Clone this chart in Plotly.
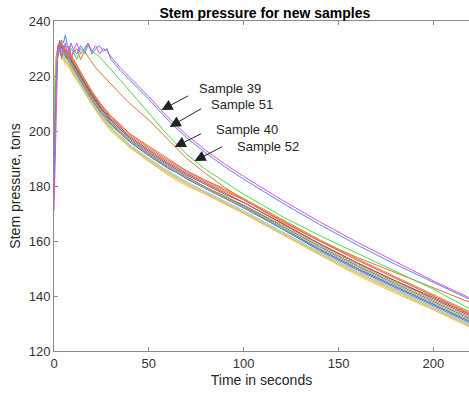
import plotly.graph_objects as go

# Time axis (seconds) for the bundle of samples
time_s = [0, 1, 2, 3, 4, 5, 6, 8, 10, 13, 16, 20, 25, 30, 40, 50, 60, 70, 80,
          90, 100, 120, 140, 160, 180, 200, 220]
# Time axis (seconds) for the four labelled samples
time_o = [0, 1, 2, 3, 4, 5, 6, 7, 8, 9, 10, 12, 14, 16, 18, 20, 22, 24, 26, 28,
          30, 35, 40, 50, 60, 70, 80, 90, 100, 120, 140, 160, 180, 200, 220]

# Bulk of samples (tight bundle)
s_a = [188, 221, 229, 231, 229, 230, 227, 226, 223.5, 220, 216.5, 212, 207, 203, 196.5, 191.5, 187, 183, 179.5, 176, 172.5, 165, 157, 150, 143.5, 137, 130.5]
s_b = [176, 218, 230, 232, 230, 231, 229, 228.5, 226, 222.5, 219, 214.5, 209.5, 205.5, 199, 194, 189.5, 185.5, 182, 178.5, 175, 167.5, 160, 153, 146.5, 140, 133.5]
s_c = [200, 224, 228, 229, 227, 226, 225, 223.5, 221, 217.5, 214, 209.5, 204.5, 200.5, 194, 189, 184.5, 180.5, 177, 173.5, 170, 162.5, 155, 148, 141.5, 135, 128.5]
s_d = [192, 223, 230, 229, 231, 228, 228, 226.5, 224, 220.5, 217, 212.5, 207.5, 203.5, 196.5, 191.5, 187, 182.5, 179, 175.5, 172, 164.5, 156.5, 149.5, 143, 136.5, 130]
s_e = [205, 226, 231, 230, 228, 229, 227, 225, 222.5, 219, 215.5, 211, 206, 202, 196, 191, 186.5, 183, 179.5, 176.5, 173, 166, 158.5, 151.5, 145, 138.5, 132]
s_f = [182, 219, 227, 230, 229, 227, 226, 224, 221.5, 218, 214.5, 210, 205, 201, 194.5, 189.5, 185, 181, 177.5, 174, 170.5, 163, 155.5, 148.5, 142, 135.5, 129]
s_g = [179, 217, 228, 231, 232, 230, 229, 227.5, 225, 221.5, 218, 213.5, 208.5, 204.5, 198, 193, 188.5, 184.5, 181, 177.5, 174, 166.5, 159, 152, 145.5, 139, 132.5]
s_h = [196, 224, 229, 232, 230, 229, 228, 227, 224.5, 221, 217.5, 213, 208, 204, 197, 192, 187.5, 183.5, 179.5, 176, 172.5, 164.5, 157, 150, 143.5, 137, 130.5]
s_i = [185, 220, 231, 230, 232, 230, 228.5, 228, 225.5, 222, 218.5, 214, 209, 205, 198.5, 193.5, 189, 185, 181.5, 178, 175, 167.5, 160, 153, 146.5, 140, 133.5]
s_j = [210, 227, 229, 228, 227, 226, 224, 223, 220.5, 217.5, 214.5, 210, 204.5, 200, 194, 189, 184, 180, 177, 173.5, 170, 162.5, 155, 147.5, 141, 135, 128.5]
s_k = [187, 222, 228, 230, 229, 228, 227, 225.5, 223, 219.5, 216, 211.5, 206.5, 202.5, 196, 191, 186.5, 183, 179.5, 176, 173, 165.5, 158, 151, 144.5, 138, 131.5]
s_l = [199, 225, 230, 229, 230, 228, 227.5, 226, 223.5, 220, 216.5, 212, 207, 203, 196.5, 191.5, 187, 183, 179.5, 176, 172.5, 165, 157.5, 150.5, 144, 137.5, 131]
s_m = [184, 220, 228, 231, 229, 228, 226, 224.5, 222, 218.5, 215, 210.5, 205.5, 201.5, 195, 190, 185.5, 181.5, 178, 174.5, 171, 163.5, 156, 149, 142.5, 136, 129.5]
s_n = [193, 223, 230, 233, 230, 231, 229, 227, 224.5, 221, 217.5, 213, 208, 204, 197.5, 192.5, 188, 184, 180.5, 177, 174, 166.5, 159, 152, 145.5, 139.5, 133]
s_o = [178, 216, 229, 232, 231, 230, 229.5, 229, 226.5, 223, 219, 214, 209.5, 205.5, 199, 194.5, 190, 185.5, 182, 179, 175.5, 168, 160.5, 153.5, 147, 140.5, 134]
s_p = [203, 225, 229, 230, 228, 227, 225.5, 224, 221.5, 218, 214.5, 210, 205, 201, 194.5, 189.5, 185, 181, 177.5, 174, 170.5, 163, 155.5, 148.5, 142, 135.5, 129]

# Labelled outlier samples
sample_39 = [171, 205, 229, 231, 227, 230, 232, 228, 231, 226, 229, 232, 228, 230, 232, 229, 231, 228, 230, 229, 227, 223, 219.5, 212.5, 205, 198.5, 193, 188, 183.5, 175, 167, 159.5, 152.5, 145.5, 139]
sample_51 = [180, 215, 228, 230, 233, 232, 235, 231, 229, 232, 230, 228, 231, 229, 232, 228, 230, 231, 229, 230, 226, 222, 218.5, 211.5, 204, 197.5, 192, 187, 182.5, 174, 166, 158.5, 151.5, 145, 138.5]
sample_40 = [183, 220, 228, 231, 226, 230, 231, 228, 227, 230, 229, 226, 230, 228, 231, 229, 228, 227, 225.5, 224, 222.5, 218.5, 214.5, 206.5, 198.5, 191.5, 186, 181.5, 177, 169, 162, 155.5, 149, 142.5, 135]
sample_52 = [190, 221, 229, 230, 227, 231, 229, 226, 229, 227, 228, 230, 226, 229, 227, 225, 223, 221.5, 220, 218.5, 217, 213.5, 210, 204, 197, 190, 184.5, 179.5, 175, 167, 160, 154, 148.5, 143, 137.5]

bundle = [s_a, s_b, s_c, s_d, s_e, s_f, s_g, s_h, s_i, s_j, s_k, s_l, s_m, s_n, s_o, s_p]
matlab_colors = ['#3f8fd0', '#e07a45', '#f0c050', '#9a5aa8', '#8fc050', '#70cdf0', '#b84860']
bundle_colors = [matlab_colors[0], matlab_colors[1], matlab_colors[2], matlab_colors[3],
                 matlab_colors[4], matlab_colors[5], matlab_colors[6], matlab_colors[0],
                 matlab_colors[1], matlab_colors[2], matlab_colors[3], matlab_colors[4],
                 matlab_colors[5], matlab_colors[6], matlab_colors[1], matlab_colors[2]]

labels = ["Sample 39", "Sample 51", "Sample 40", "Sample 52"]
# arrow tips (time, pressure) and text anchor positions
tip_t = [56.7, 61.0, 63.6, 74.1]
tip_p = [207.6, 201.5, 194.2, 189.1]
text_t = [75.2, 81.5, 84.2, 95.3]
text_p = [215.6, 209.8, 200.7, 194.2]
tail_dx = [28, 33, 28, 29]
tail_dy = [-15, -19, -14, -15]

fig = go.Figure()
for vals, col in zip(bundle, bundle_colors):
    fig.add_trace(go.Scatter(x=time_s, y=vals, mode='lines',
                             line=dict(color=col, width=1), showlegend=False))

outliers = [(sample_52, '#e0703a'), (sample_40, '#40e040'),
            (sample_51, '#4a90d9'), (sample_39, '#ee44ee')]
for vals, col in outliers:
    fig.add_trace(go.Scatter(x=time_o, y=vals, mode='lines',
                             line=dict(color=col, width=1), showlegend=False))

annotations = []
for i in range(len(labels)):
    annotations.append(dict(x=tip_t[i], y=tip_p[i], xref='x', yref='y',
                            ax=tail_dx[i], ay=tail_dy[i], axref='pixel', ayref='pixel',
                            text='', showarrow=True, arrowhead=2, arrowsize=2.2,
                            arrowwidth=1, arrowcolor='#222222'))
    annotations.append(dict(x=text_t[i], y=text_p[i], xref='x', yref='y',
                            text=labels[i], showarrow=False, xanchor='left',
                            yanchor='middle',
                            font=dict(family='Liberation Sans, Arial', size=13,
                                      color='#262626')))

axis_common = dict(showline=True, linecolor='#8a8a8a', linewidth=1,
                   ticks='inside', ticklen=4, tickcolor='#8a8a8a',
                   showgrid=False, zeroline=False,
                   tickfont=dict(family='Liberation Sans, Arial', size=13, color='#333333'))

fig.update_layout(
    width=469, height=393,
    margin=dict(l=54, r=0, t=21, b=42),
    paper_bgcolor='white', plot_bgcolor='white',
    title=dict(text='<b>Stem pressure for new samples</b>', x=0.508, xref='paper',
               y=1 - 13 / 393, yref='container', xanchor='center', yanchor='middle',
               font=dict(family='Liberation Sans, Arial', size=14, color='black')),
    xaxis=dict(range=[0, 218.8], tickvals=[0, 50, 100, 150, 200], mirror='ticks',
               title=dict(text='Time in seconds', standoff=5,
                          font=dict(family='Liberation Sans, Arial', size=14, color='#262626')),
               **axis_common),
    yaxis=dict(range=[120, 240], tickvals=[120, 140, 160, 180, 200, 220, 240],
               title=dict(text='Stem pressure, tons', standoff=4,
                          font=dict(family='Liberation Sans, Arial', size=14, color='#262626')),
               **axis_common),
    annotations=annotations,
)

fig.write_html("out.html")
